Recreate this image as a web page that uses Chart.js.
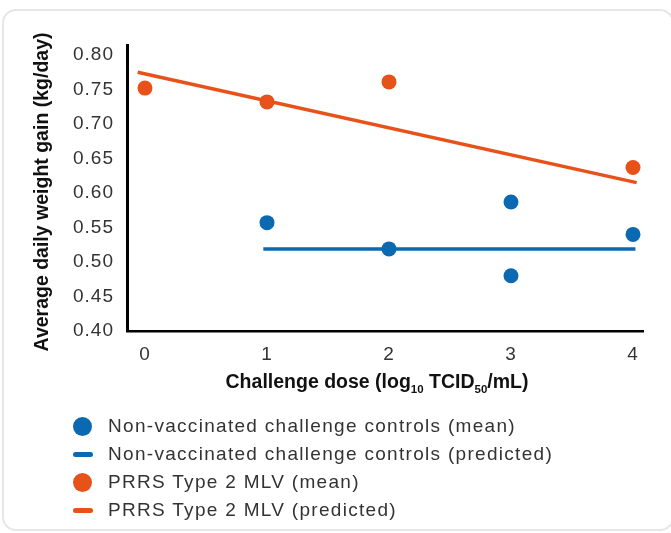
<!DOCTYPE html>
<html>
<head>
<meta charset="utf-8">
<script src="https://cdn.jsdelivr.net/npm/chart.js@4.4.1/dist/chart.umd.min.js"></script>
<style>
  html, body { margin: 0; padding: 0; background: #fff; }
  body { width: 671px; height: 533px; position: relative; overflow: hidden; font-family: "Liberation Sans", Arial, sans-serif; }
  .card { position: absolute; left: 2px; top: 9px; width: 668px; height: 518px; border: 2px solid #e6e6e6; border-radius: 14px; }
  #adg { position: absolute; left: 0; top: 0; }
  #legend { position: absolute; left: 73px; top: 412px; margin: 0; padding: 0; list-style: none; }
  #legend li { height: 28px; display: flex; align-items: center; font-size: 19px; color: #333; letter-spacing: 1.3px; white-space: nowrap; }
  #legend .mk { display: inline-block; width: 20px; margin-right: 15px; }
  #legend .dot { height: 19px; border-radius: 50%; }
  #legend .dash { height: 5px; border-radius: 3px; }
</style>
</head>
<body>
<div class="card"></div>
<canvas id="adg" width="671" height="533"></canvas>
<ul id="legend"></ul>
<script>
// ticks
const xTicks = [0, 1, 2, 3, 4];
const yTicks = [0.40, 0.45, 0.50, 0.55, 0.60, 0.65, 0.70, 0.75, 0.80];

// non-vaccinated challenge controls
const ctrlMeanX = [1, 2, 3, 3, 4];
const ctrlMeanY = [0.557, 0.519, 0.587, 0.480, 0.540];
const ctrlPredX = [0.97, 4.02];
const ctrlPredY = [0.519, 0.519];

// PRRS type 2 MLV
const mlvMeanX = [0, 1, 2, 4];
const mlvMeanY = [0.752, 0.732, 0.761, 0.637];
const mlvPredX = [-0.06, 4.03];
const mlvPredY = [0.775, 0.615];

const blue = '#0a69b1';
const orange = '#e6521a';
const fontFam = '"Liberation Sans", Arial, sans-serif';

const pts = (xs, ys) => xs.map((x, i) => ({ x: x, y: ys[i] }));

// a little tracking on the tick labels, like the original
const tracking = {
  id: 'tracking',
  beforeDraw(chart) { chart.ctx.letterSpacing = '1px'; }
};

// axis titles drawn by hand so the subscripts come out right
const axisTitles = {
  id: 'axisTitles',
  afterDraw(chart) {
    const ctx = chart.ctx;
    ctx.save();
    ctx.letterSpacing = '0px';
    ctx.fillStyle = '#111';
    ctx.font = 'bold 19.5px ' + fontFam;
    ctx.textAlign = 'center';
    ctx.textBaseline = 'middle';
    ctx.translate(43, 192);
    ctx.rotate(-Math.PI / 2);
    ctx.fillText('Average daily weight gain (kg/day)', 0, 0);
    ctx.restore();

    const parts = [
      ['Challenge dose (log', false], ['10', true], [' TCID', false], ['50', true], ['/mL)', false]
    ];
    ctx.save();
    ctx.letterSpacing = '0px';
    ctx.fillStyle = '#111';
    ctx.textBaseline = 'alphabetic';
    ctx.textAlign = 'left';
    let total = 0;
    parts.forEach(p => {
      ctx.font = 'bold ' + (p[1] ? 11.5 : 19.5) + 'px ' + fontFam;
      total += ctx.measureText(p[0]).width;
    });
    let x = 377 - total / 2;
    parts.forEach(p => {
      ctx.font = 'bold ' + (p[1] ? 11.5 : 19.5) + 'px ' + fontFam;
      ctx.fillText(p[0], x, p[1] ? 393 : 388);
      x += ctx.measureText(p[0]).width;
    });
    ctx.restore();
  }
};

const chart = new Chart(document.getElementById('adg'), {
  type: 'scatter',
  data: {
    datasets: [
      {
        label: 'Non-vaccinated challenge controls (mean)',
        data: pts(ctrlMeanX, ctrlMeanY),
        backgroundColor: blue,
        borderWidth: 0,
        pointRadius: 7.5,
        order: 1
      },
      {
        label: 'Non-vaccinated challenge controls (predicted)',
        data: pts(ctrlPredX, ctrlPredY),
        borderColor: blue,
        backgroundColor: blue,
        showLine: true,
        borderWidth: 3.5,
        pointRadius: 0,
        order: 3
      },
      {
        label: 'PRRS Type 2 MLV (mean)',
        data: pts(mlvMeanX, mlvMeanY),
        backgroundColor: orange,
        borderWidth: 0,
        pointRadius: 7.5,
        order: 2
      },
      {
        label: 'PRRS Type 2 MLV (predicted)',
        data: pts(mlvPredX, mlvPredY),
        borderColor: orange,
        backgroundColor: orange,
        showLine: true,
        borderWidth: 3.5,
        pointRadius: 0,
        order: 4
      }
    ]
  },
  options: {
    responsive: false,
    animation: false,
    devicePixelRatio: 1,
    layout: { padding: { left: 0, top: 45, right: 28, bottom: 132 } },
    font: { family: fontFam },
    plugins: {
      legend: { display: false },
      tooltip: { enabled: false }
    },
    scales: {
      x: {
        type: 'linear',
        min: -0.1475,
        max: 4.082,
        afterBuildTicks: s => { s.ticks = xTicks.map(v => ({ value: v })); },
        afterFit: s => { s.height = 70; },
        grid: { display: false, drawTicks: false },
        border: { display: true, color: '#000', width: 2.5 },
        ticks: { color: '#333', padding: 12, font: { family: fontFam, size: 19 } }
      },
      y: {
        min: 0.40,
        max: 0.8145,
        afterBuildTicks: s => { s.ticks = yTicks.map(v => ({ value: v })); },
        afterFit: s => { s.width = 127; },
        grid: { display: false, drawTicks: false },
        border: { display: true, color: '#000', width: 3 },
        ticks: {
          color: '#333',
          padding: 13,
          font: { family: fontFam, size: 19 },
          callback: v => v.toFixed(2)
        }
      }
    }
  },
  plugins: [tracking, axisTitles]
});

// legend as a plain list under the chart
const legend = document.getElementById('legend');
chart.data.datasets.forEach(ds => {
  const li = document.createElement('li');
  const mk = document.createElement('span');
  mk.className = 'mk ' + (ds.showLine ? 'dash' : 'dot');
  mk.style.background = ds.backgroundColor;
  if (!ds.showLine) { mk.style.width = '19px'; mk.style.marginRight = '16px'; }
  li.appendChild(mk);
  li.appendChild(document.createTextNode(ds.label));
  legend.appendChild(li);
});
</script>
</body>
</html>
